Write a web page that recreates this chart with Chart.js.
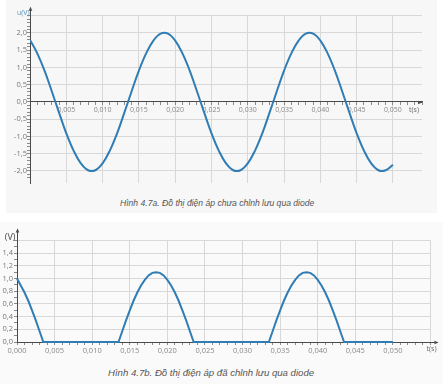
<!DOCTYPE html>
<html><head><meta charset="utf-8">
<script src="https://cdn.jsdelivr.net/npm/chart.js@4"></script>
<style>
html,body{margin:0;padding:0;background:#fff;width:448px;height:384px;overflow:hidden;position:relative;}
#pa{position:absolute;left:6px;top:0;width:431px;height:213px;background:#f7f7f7;}
#pb{position:absolute;left:0;top:222px;width:443px;height:162px;background:#fafafa;}
#ca{position:absolute;left:0;top:0;}
#cb{position:absolute;left:0;top:215px;}
.cap{position:absolute;font-family:"Liberation Sans",Arial,sans-serif;font-style:italic;color:#555;white-space:nowrap;line-height:12px;}
</style></head><body>
<div id="pa"></div><div id="pb"></div>
<canvas id="ca" width="448" height="195"></canvas>
<canvas id="cb" width="448" height="145"></canvas>
<div class="cap" style="left:120px;top:197px;font-size:8.6px;">Hình 4.7a. Đồ thị điện áp chưa chỉnh lưu qua diode</div>
<div class="cap" style="left:108px;top:367px;font-size:9.6px;">Hình 4.7b. Đồ thị điện áp đã chỉnh lưu qua diode</div>
<script>
// ---- data ----
const timesA = [0,0.001,0.002,0.003,0.004,0.005,0.006,0.007,0.008,0.009,
  0.010,0.011,0.012,0.013,0.014,0.015,0.016,0.017,0.018,0.019,
  0.020,0.021,0.022,0.023,0.024,0.025,0.026,0.027,0.028,0.029,
  0.030,0.031,0.032,0.033,0.034,0.035,0.036,0.037,0.038,0.039,
  0.040,0.041,0.042,0.043,0.044,0.045,0.046,0.047,0.048,0.049,0.050];
const voltsA = [1.80,1.41,0.91,0.31,-0.31,-0.91,-1.41,-1.78,-1.98,-1.98,
  -1.78,-1.41,-0.91,-0.31,0.31,0.91,1.41,1.78,1.98,1.98,
  1.78,1.41,0.91,0.31,-0.31,-0.91,-1.41,-1.78,-1.98,-1.98,
  -1.78,-1.41,-0.91,-0.31,0.31,0.91,1.41,1.78,1.98,1.98,
  1.78,1.41,0.91,0.31,-0.31,-0.91,-1.41,-1.78,-1.98,-1.98,-1.82];
const timesB = [0,0.0005,0.001,0.0015,0.002,0.0025,0.003,0.0035,
  0.0135,0.014,0.0145,0.015,0.0155,0.016,0.0165,0.017,0.0175,0.018,0.0185,0.019,0.0195,0.020,0.0205,0.021,0.0215,0.022,0.0225,0.023,0.0235,
  0.0335,0.034,0.0345,0.035,0.0355,0.036,0.0365,0.037,0.0375,0.038,0.0385,0.039,0.0395,0.040,0.0405,0.041,0.0415,0.042,0.0425,0.043,0.0435,
  0.050];
const voltsB = [1.00,0.89,0.78,0.65,0.50,0.34,0.17,0,
  0,0.17,0.34,0.50,0.65,0.78,0.89,0.98,1.05,1.09,1.10,1.09,1.05,0.98,0.89,0.78,0.65,0.50,0.34,0.17,0,
  0,0.17,0.34,0.50,0.65,0.78,0.89,0.98,1.05,1.09,1.10,1.09,1.05,0.98,0.89,0.78,0.65,0.50,0.34,0.17,0,
  0];
const yTitleA = 'u(V)', yTitleB = '(V)', xTitle = 't(s)';

// ---- styles ----
const BLUE = '#2f7db4', AXIS = '#4a4a4a', GRID = '#d8d8d8', TICK = '#8a8a8a';
const near = (v, s) => Math.abs(v / s - Math.round(v / s)) < 1e-6;
const fmt = (v, d) => v.toFixed(d).replace('.', ',');
const FONT = {family: '"Open Sans", "DejaVu Sans", sans-serif', size: 7};

function deco(o) {
  return {
    id: 'deco' + o.id,
    afterDraw(chart) {
      const {ctx, chartArea: a, scales: {x, y}} = chart;
      const y0 = Math.round(y.getPixelForValue(0)) + 0.5;
      const xl = Math.round(x.getPixelForValue(0)) + 0.5;
      ctx.save();
      ctx.strokeStyle = AXIS; ctx.fillStyle = AXIS; ctx.lineWidth = 1;
      const tipY = a.top - o.yExt;
      ctx.beginPath(); ctx.moveTo(xl, a.top); ctx.lineTo(xl, tipY); ctx.stroke();
      ctx.beginPath(); ctx.moveTo(xl, tipY - 1); ctx.lineTo(xl - 1.8, tipY + 3); ctx.lineTo(xl + 1.8, tipY + 3); ctx.closePath(); ctx.fill();
      const tipX = a.right + o.xExt;
      ctx.beginPath(); ctx.moveTo(a.right, y0); ctx.lineTo(tipX, y0); ctx.stroke();
      ctx.beginPath(); ctx.moveTo(tipX + 1, y0); ctx.lineTo(tipX - 3, y0 - 1.8); ctx.lineTo(tipX - 3, y0 + 1.8); ctx.closePath(); ctx.fill();
      ctx.font = o.yFont; ctx.fillStyle = o.yColor; ctx.textAlign = 'right'; ctx.textBaseline = 'middle';
      ctx.fillText(o.yTitle, xl - o.yTitleDx, tipY + o.yTitleDy);
      if (o.sub) { ctx.font = '6px "Open Sans", sans-serif'; ctx.textAlign = 'left'; ctx.fillText(o.sub, 0, tipY + o.yTitleDy + 3); }
      ctx.font = '7px "Open Sans", sans-serif'; ctx.fillStyle = '#666'; ctx.textAlign = 'center';
      ctx.fillText(xTitle, a.right + o.xTitleDx, y0 + o.xTitleDy);
      ctx.restore();
    }
  };
}

// ---- chart A ----
new Chart(document.getElementById('ca'), {
  type: 'line',
  data: {datasets: [{data: timesA.map((t, i) => ({x: t, y: voltsA[i]})), borderColor: BLUE, borderWidth: 2,
    pointRadius: 0, tension: 0.4, fill: false}]},
  options: {
    responsive: false, animation: false, devicePixelRatio: 1,
    layout: {padding: {left: 0, top: 15.75, right: 26, bottom: 12}},
    plugins: {legend: {display: false}, tooltip: {enabled: false}},
    scales: {
      x: {type: 'linear', position: {y: 0}, min: 0, max: 0.054,
        border: {display: true, color: AXIS, width: 1},
        grid: {color: c => near(c.tick.value, 0.005) && c.tick.value > 0 ? GRID : 'rgba(0,0,0,0)',
          tickColor: TICK, tickLength: 3, drawTicks: true},
        ticks: {stepSize: 0.001, autoSkip: false, maxRotation: 0, minRotation: 0, padding: 1,
          color: TICK, font: FONT,
          callback: v => (near(v, 0.005) && v > 0.001 && v < 0.0505) ? fmt(v, 3) : ''}},
      y: {type: 'linear', min: -2.35, max: 2.5,
        afterFit: s => { s.width = 30; },
        border: {display: true, color: AXIS, width: 1},
        grid: {color: c => near(c.tick.value, 0.5) ? GRID : 'rgba(0,0,0,0)',
          tickColor: c => near(c.tick.value, 0.1) ? TICK : 'rgba(0,0,0,0)', tickLength: 3},
        ticks: {stepSize: 0.1, autoSkip: false, padding: 0, color: '#777', font: {family: FONT.family, size: 7.5},
          callback: v => (near(v, 0.5) && Math.abs(v) < 2.01) ? fmt(v, 1) : ''}}
    }
  },
  plugins: [deco({id: 'a', yExt: 8, xExt: -1, yTitle: yTitleA, yTitleDx: 1, yTitleDy: 5,
    yFont: '7px "Open Sans", sans-serif', yColor: '#5b93bd', xTitleDx: -8, xTitleDy: 7})]
});

// ---- chart B ----
new Chart(document.getElementById('cb'), {
  type: 'line',
  data: {datasets: [{data: timesB.map((t, i) => ({x: t, y: voltsB[i]})), borderColor: BLUE, borderWidth: 2,
    pointRadius: 0, tension: 0, fill: false, clip: 4}]},
  options: {
    responsive: false, animation: false, devicePixelRatio: 1,
    layout: {padding: {left: 0, top: 25.5, right: 17.5, bottom: 0}},
    plugins: {legend: {display: false}, tooltip: {enabled: false}},
    scales: {
      x: {type: 'linear', position: 'bottom', min: 0, max: 0.055,
        afterFit: s => { s.height = 18; },
        border: {display: true, color: AXIS, width: 1},
        grid: {color: c => near(c.tick.value, 0.005) && c.tick.value > 0 ? GRID : 'rgba(0,0,0,0)',
          tickColor: TICK, tickLength: 3},
        ticks: {stepSize: 0.001, autoSkip: false, maxRotation: 0, minRotation: 0, padding: 1,
          color: TICK, font: {family: FONT.family, size: 7.5},
          callback: v => (near(v, 0.005) && v < 0.0505) ? fmt(v, 3) : ''}},
      y: {type: 'linear', min: 0, max: 1.6,
        afterFit: s => { s.width = 17; },
        border: {display: true, color: AXIS, width: 1},
        grid: {color: c => near(c.tick.value, 0.2) && c.tick.value > 0 ? GRID : 'rgba(0,0,0,0)',
          tickColor: TICK, tickLength: 3},
        ticks: {stepSize: 0.1, autoSkip: false, padding: 1, color: '#777', font: {family: FONT.family, size: 7.5},
          callback: v => (near(v, 0.2) && v < 1.5) ? fmt(v, 1) : ''}}
    }
  },
  plugins: [deco({id: 'b', yExt: 11, xExt: 7, yTitle: yTitleB, yTitleDx: 2, yTitleDy: 8, sub: '',
    yFont: '9px "Open Sans", sans-serif', yColor: '#444', xTitleDx: 1, xTitleDy: 6})]
});
</script>
</body></html>
